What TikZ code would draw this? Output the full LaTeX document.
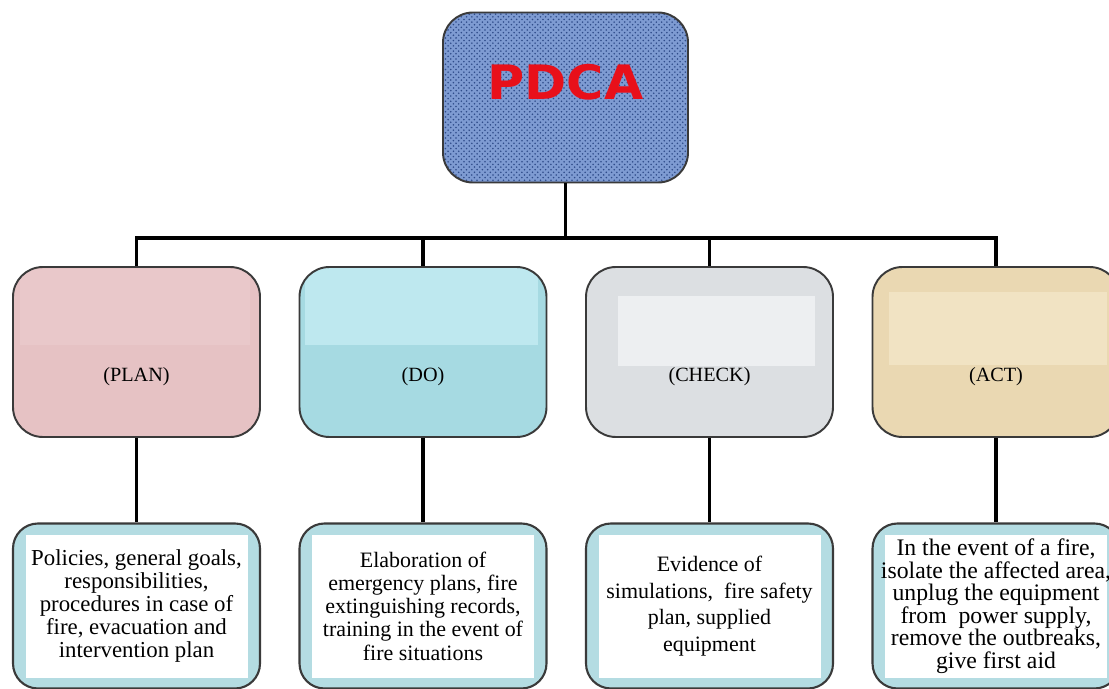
\documentclass[tikz,border=0pt]{standalone}
\usepackage{fontspec}
\setmainfont{Liberation Serif}
\newfontfamily\headfont{DejaVu Sans}
\usetikzlibrary{positioning, patterns}

\definecolor{boxline}{HTML}{3A3A3A}
\definecolor{cloth}{HTML}{7E9BD2}
\definecolor{clothdot}{HTML}{2F4C8A}
\definecolor{pdcared}{HTML}{E8101A}
\definecolor{planpink}{HTML}{E6C2C4}
\definecolor{planpale}{HTML}{E9C8CA}
\definecolor{dowater}{HTML}{A6DAE2}
\definecolor{dopale}{HTML}{BEE8EF}
\definecolor{checkgray}{HTML}{DCDFE2}
\definecolor{checkpale}{HTML}{EDEFF1}
\definecolor{actsand}{HTML}{EAD8B2}
\definecolor{actpale}{HTML}{F1E3C3}
\definecolor{taskblue}{HTML}{B4DCE2}

\begin{document}
\begin{tikzpicture} [node distance = 5.08cm and 5.73cm, on grid,
   topbox/.style = {draw=boxline, line width=1.1pt, rounded corners=0.6cm, fill=cloth,
      minimum width=4.9cm, minimum height=3.4cm,
      path picture={\fill[pattern=crosshatch dots, pattern color=clothdot]
         (path picture bounding box.south west) rectangle (path picture bounding box.north east);}},
   phase/.style = {draw=boxline, line width=1.1pt, rounded corners=0.6cm,
      minimum width=4.94cm, minimum height=3.4cm},
   patch/.style n args = {5}{path picture={\fill[#1, sharp corners]
      ([shift={(#2,-#3)}]path picture bounding box.north west) rectangle
      ([shift={(-#4,#5)}]path picture bounding box.south east);}},
   phaselabel/.style = {yshift=-0.5cm, font=\fontsize{11.5}{12}\selectfont},
   task/.style = {draw=boxline, line width=1.2pt, rounded corners=0.5cm, fill=taskblue,
      minimum width=4.94cm, minimum height=3.3cm, align=center,
      path picture={\fill[white, sharp corners]
         ([shift={(0.25,-0.22)}]path picture bounding box.north west) rectangle
         ([shift={(-0.25,0.22)}]path picture bounding box.south east);}},
   link/.style = {line width=2.2pt, black}]

   \useasboundingbox (0,0) rectangle (22.18,-13.78);

   \node (pdca)[topbox, label={[yshift=0.3cm, text=pdcared, font=\headfont\bfseries\fontsize{27}{30}\selectfont]center:\scalebox{1.07}[1]{PDCA}}] at (11.31,-1.95) {};

   \node (plan)[phase, fill=planpink, patch={planpale}{0.15}{0.05}{0.2}{1.84},
      label={[phaselabel]center:(PLAN)}] at (2.73,-7.04) {};
   \node (do)[phase, fill=dowater, right = of plan, patch={dopale}{0.1}{0.02}{0.18}{1.84},
      label={[phaselabel]center:(DO)}] {};
   \node (check)[phase, fill=checkgray, right = of do, patch={checkpale}{0.64}{0.58}{0.36}{1.42},
      label={[phaselabel]center:(CHECK)}] {};
   \node (act)[phase, fill=actsand, right = of check, patch={actpale}{0.32}{0.5}{0.26}{1.44},
      label={[phaselabel]center:(ACT)}] {};

   \node (plantxt)[task, below = of plan, font=\fontsize{13}{13.2}\selectfont]
      {Policies, general goals,\\ responsibilities,\\ procedures in case of\\ fire, evacuation and\\ intervention plan};
   \node (dotxt)[task, below = of do, font=\fontsize{12.5}{13.2}\selectfont]
      {Elaboration of\\ emergency plans, fire\\ extinguishing records,\\ training in the event of\\ fire situations};
   \node (checktxt)[task, below = of check, font=\fontsize{12.5}{15.2}\selectfont]
      {Evidence of\\ simulations,\ \ fire safety\\ plan, supplied\\ equipment};
   \node (acttxt)[task, below = of act, font=\fontsize{13.5}{12.8}\selectfont]
      {In the event of a fire,\\ isolate the affected area,\\ unplug the equipment\\ from\ \ power supply,\\ remove the outbreaks,\\ give first aid};

   % tree lines
   \coordinate (bus) at (0,-4.76);
   \draw[link] (pdca.south) -- (pdca.south |- bus);
   \draw[link] (plan.north) |- (bus -| act.north) -- (act.north);
   \draw[link] (do.north) -- (do.north |- bus);
   \draw[link] (check.north) -- (check.north |- bus);

   \draw[link] (plan) -- (plantxt);
   \draw[link] (do) -- (dotxt);
   \draw[link] (check) -- (checktxt);
   \draw[link] (act) -- (acttxt);

\end{tikzpicture}
\end{document}
